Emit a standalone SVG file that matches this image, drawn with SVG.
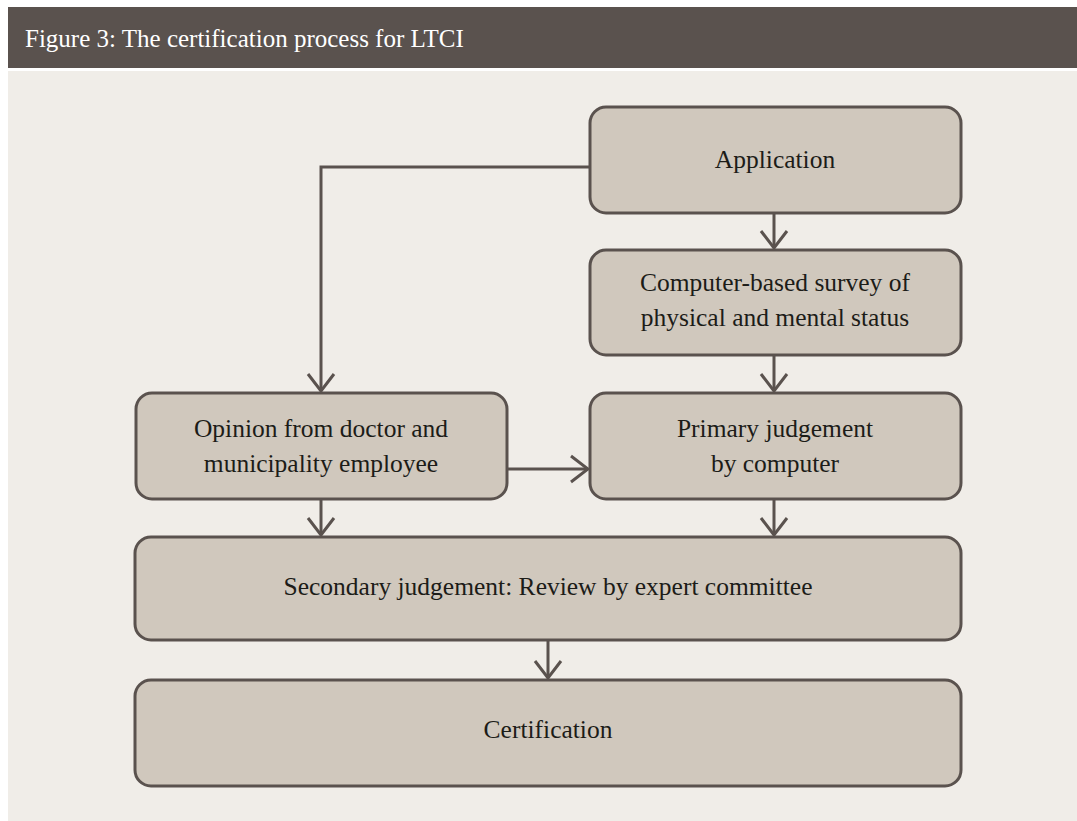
<svg xmlns="http://www.w3.org/2000/svg" width="1077" height="821" viewBox="0 0 1077 821">
<defs>
<style>
.box{fill:#d0c8bd;stroke:#5a524e;stroke-width:3}
.t{font-family:"Liberation Serif",serif;font-size:25.5px;fill:#1c1c18;text-anchor:middle}
.c{fill:none;stroke:#5a524e;stroke-width:3}
</style>
<marker id="v" viewBox="0 0 20 30" refX="18" refY="15" markerWidth="20" markerHeight="30" markerUnits="userSpaceOnUse" orient="auto">
<path d="M1,2 L18,15 L1,28" fill="none" stroke="#5a524e" stroke-width="3"/>
</marker>
</defs>
<rect width="1077" height="821" fill="#ffffff"/>
<rect x="8" y="7" width="1069" height="61" fill="#5a524e"/>
<text x="25" y="47" font-family="Liberation Serif, serif" font-size="25" fill="#ffffff">Figure 3: The certification process for LTCI</text>
<rect x="8" y="71" width="1069" height="750" fill="#f0ede8"/>
<g id="connectors">
<path class="c" d="M590,167 H321 V391" marker-end="url(#v)"/>
<path class="c" d="M774,213 V248" marker-end="url(#v)"/>
<path class="c" d="M774,355 V391" marker-end="url(#v)"/>
<path class="c" d="M507,469 H588" marker-end="url(#v)"/>
<path class="c" d="M321,499 V535" marker-end="url(#v)"/>
<path class="c" d="M774,499 V535" marker-end="url(#v)"/>
<path class="c" d="M548,640 V678" marker-end="url(#v)"/>
</g>
<g id="application"><rect class="box" x="590" y="107" width="371" height="106" rx="16"/><text class="t" x="775" y="168">Application</text></g>
<g id="survey"><rect class="box" x="590" y="250" width="371" height="105" rx="16"/><text class="t" x="775" y="291">Computer-based survey of</text><text class="t" x="775" y="326">physical and mental status</text></g>
<g id="opinion"><rect class="box" x="136" y="393" width="371" height="106" rx="16"/><text class="t" x="321" y="437">Opinion from doctor and</text><text class="t" x="321" y="472">municipality employee</text></g>
<g id="primary"><rect class="box" x="590" y="393" width="371" height="106" rx="16"/><text class="t" x="775" y="437">Primary judgement</text><text class="t" x="775" y="472">by computer</text></g>
<g id="secondary"><rect class="box" x="135" y="537" width="826" height="103" rx="16"/><text class="t" x="548" y="595">Secondary judgement: Review by expert committee</text></g>
<g id="certification"><rect class="box" x="135" y="680" width="826" height="106" rx="16"/><text class="t" x="548" y="738">Certification</text></g>
</svg>
